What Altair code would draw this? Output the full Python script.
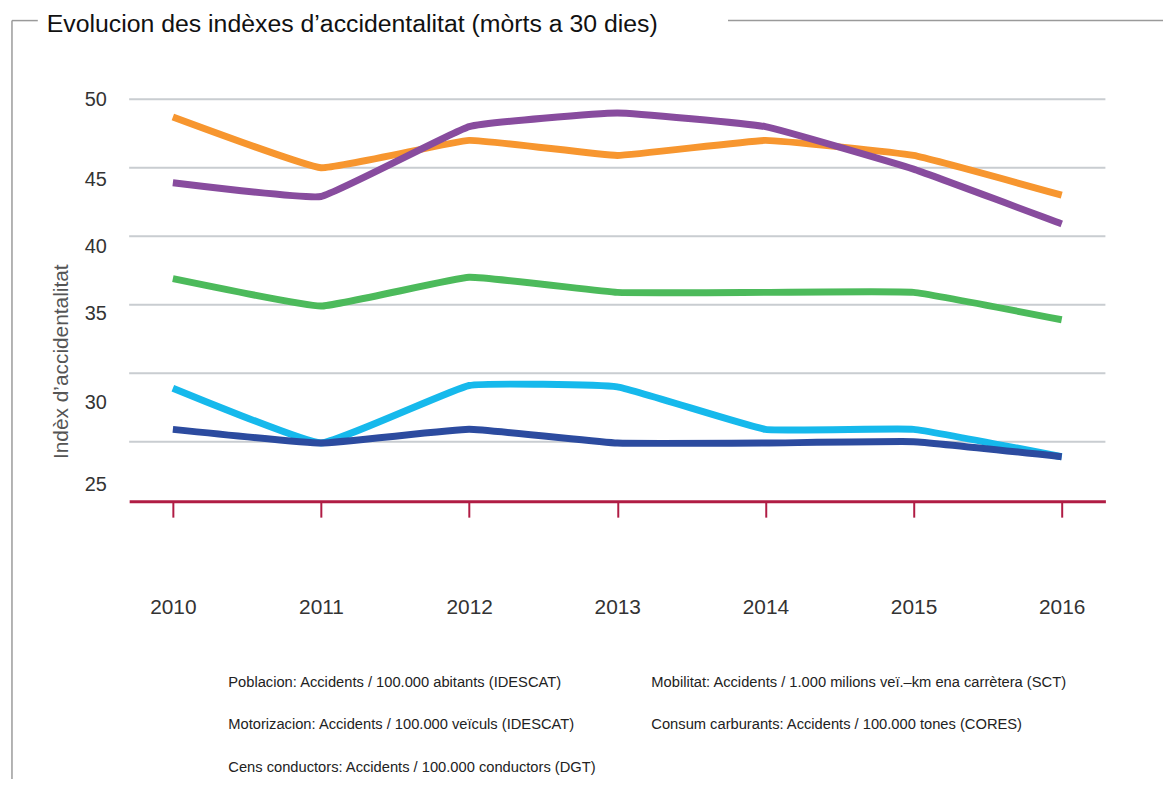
import altair as alt
import pandas as pd

years = [2010, 2011, 2012, 2013, 2014, 2015, 2016]
series_names = [
    "Poblacion: Accidents / 100.000 abitants (IDESCAT)",
    "Mobilitat: Accidents / 1.000 milions veï.–km ena carrètera (SCT)",
    "Motorizacion: Accidents / 100.000 veïculs (IDESCAT)",
    "Consum carburants: Accidents / 100.000 tones (CORES)",
    "Cens conductors: Accidents / 100.000 conductors (DGT)",
]
series_colors = ["#f7962f", "#884c9e", "#4cba5b", "#16b9ec", "#2c4b9f"]
poblacion = [48.7, 45.0, 47.0, 45.9, 47.0, 45.9, 43.0]
mobilitat = [43.9, 42.9, 48.0, 49.0, 48.0, 44.9, 40.9]
motorizacion = [36.9, 34.9, 37.0, 35.9, 35.9, 35.9, 33.9]
consum = [28.9, 24.9, 29.1, 29.0, 25.9, 25.9, 23.9]
cens = [25.9, 24.9, 25.9, 24.9, 24.9, 25.0, 23.9]
grid_values = [50, 45, 40, 35, 30, 25]
ylabel_positions = [50, 44.13, 39.28, 34.35, 27.83, 21.88]
title_text = "Evolucion des indèxes d’accidentalitat (mòrts a 30 dies)"
ytitle = "Indèx d’accidentalitat"

# legend is laid out column-major: col 1 = Poblacion, Motorizacion, Cens; col 2 = Mobilitat, Consum
legend_order = [0, 2, 4, 1, 3]
legend_domain = [series_names[i] for i in legend_order]
legend_range = [series_colors[i] for i in legend_order]

all_series = [poblacion, mobilitat, motorizacion, consum, cens]
rows = []
for i in range(5):
    for y, v in zip(years, all_series[i]):
        rows.append({"year": y, "value": v, "serie": series_names[i]})
df = pd.DataFrame(rows)
grid_df = pd.DataFrame({"v": grid_values})
one = pd.DataFrame({"t": [title_text]})

W, H = 983, 422

xscale = alt.Scale(domain=[2009.705, 2016.295], nice=False, zero=False)
yscale = alt.Scale(domain=[20.65, 51.25], nice=False, zero=False)

grid = alt.Chart(grid_df).mark_rule(color="#c9cdd1", strokeWidth=2).encode(
    y=alt.Y("v:Q", scale=yscale,
            axis=alt.Axis(values=ylabel_positions, labelExpr="'' + 5*ceil(datum.value/5)",
                          domain=False, ticks=False, grid=False, labelPadding=23,
                          labelFontSize=20, labelColor="#333", title=ytitle,
                          titleX=-68, titleY=281, titleAngle=270, titleBaseline="middle",
                          titleAlign="center", titleFontWeight="normal",
                          titleColor="#555", titleFontSize=21))
)

lines = alt.Chart(df).mark_line(strokeWidth=7, interpolate="cardinal", tension=0.7,
                                strokeCap="butt").encode(
    x=alt.X("year:Q", scale=xscale,
            axis=alt.Axis(values=years, format="d", domainColor="#b01c44", domainWidth=3,
                          tickColor="#b01c44", tickWidth=2, tickSize=16, labelPadding=80,
                          labelFontSize=21, labelColor="#333", grid=False, title=None)),
    y=alt.Y("value:Q", scale=yscale),
    color=alt.Color("serie:N", scale=alt.Scale(domain=legend_domain, range=legend_range),
                    legend=alt.Legend(orient="none", legendX=85, legendY=597, columns=2,
                                      columnPadding=40, rowPadding=27, symbolSize=0,
                                      symbolStrokeWidth=0, symbolOpacity=0, labelOffset=0,
                                      labelFontSize=14.8, labelColor="#222", title=None,
                                      labelLimit=0)),
    detail="serie:N",
)

title_mark = alt.Chart(one).mark_text(
    align="left", baseline="alphabetic", fontSize=25, font="Liberation Sans", color="#111"
).encode(x=alt.value(-83), y=alt.value(-51), text="t:N")

frame_color = "#9a9a9a"
f1 = alt.Chart(one).mark_rule(color=frame_color, strokeWidth=1.5).encode(
    x=alt.value(-118), x2=alt.value(-92), y=alt.value(-62))
f2 = alt.Chart(one).mark_rule(color=frame_color, strokeWidth=1.5).encode(
    x=alt.value(-118), y=alt.value(-62), y2=alt.value(706))
f3 = alt.Chart(one).mark_rule(color=frame_color, strokeWidth=1.5).encode(
    x=alt.value(603), x2=alt.value(1050), y=alt.value(-62))

chart = alt.layer(grid, lines, title_mark, f1, f2, f3).properties(
    width=W, height=H,
    padding={"left": 122, "top": 72, "right": 58, "bottom": 277},
    autosize=alt.AutoSizeParams(type="none"),
).configure(font="Liberation Sans", background="white").configure_view(strokeWidth=0)

chart.save("out.html", embed_options={"renderer": "svg", "actions": False})
